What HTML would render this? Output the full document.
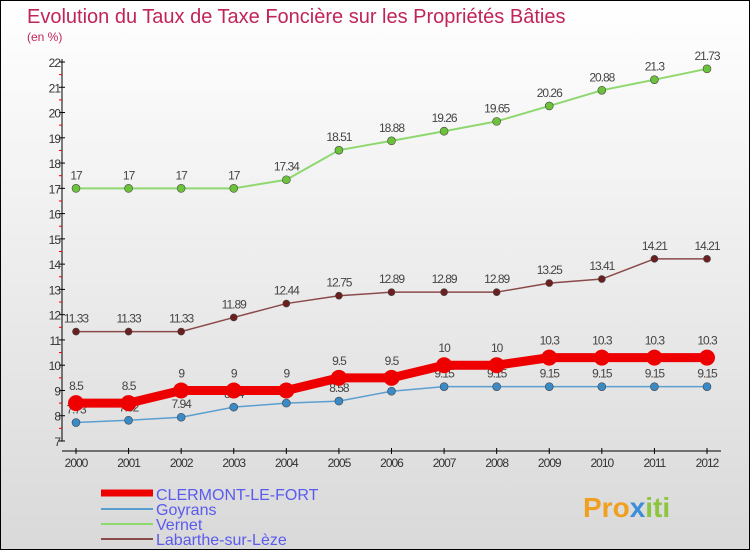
<!DOCTYPE html>
<html><head><meta charset="utf-8"><style>
body{margin:0}
#c{width:750px;height:550px;position:relative;box-sizing:border-box;border:1px solid #000;background:linear-gradient(#fff,#d9d9d9);font-family:"Liberation Sans",sans-serif;overflow:hidden}
svg text{font-family:"Liberation Sans",sans-serif}
</style></head><body>
<div id="c">
<svg id="s" width="750" height="550">
<text x="26" y="22" font-size="20" fill="#c0245a">Evolution du Taux de Taxe Foncière sur les Propriétés Bâties</text>
<text x="26" y="40" font-size="12" fill="#c0245a">(en %)</text>
<g id="axes"></g><g id="series"></g>
<g>
<line x1="100" y1="492" x2="152" y2="492" stroke="#e00" stroke-width="7"/>
<text x="155" y="499" font-size="16" fill="#5a5aee">CLERMONT-LE-FORT</text>
<line x1="100" y1="508" x2="152" y2="508" stroke="#5b9fd0" stroke-width="2"/>
<text x="155" y="514" font-size="16" fill="#5a5aee">Goyrans</text>
<line x1="100" y1="523" x2="152" y2="523" stroke="#8fd870" stroke-width="2"/>
<text x="155" y="529" font-size="16" fill="#5a5aee">Vernet</text>
<line x1="100" y1="538" x2="152" y2="538" stroke="#8b4a4a" stroke-width="2"/>
<text x="155" y="544" font-size="16" fill="#5a5aee">Labarthe-sur-Lèze</text>
</g>
<text x="582" y="516" font-size="28" font-weight="bold" fill="#f0a020">Pro<tspan fill="#3a8fd8">x</tspan><tspan fill="#8cc63f">iti</tspan></text>
</svg></div>
<script>
const years=[2000,2001,2002,2003,2004,2005,2006,2007,2008,2009,2010,2011,2012];
const clermont=[8.5,8.5,9,9,9,9.5,9.5,10,10,10.3,10.3,10.3,10.3];
const goyrans=[7.73,7.82,7.94,8.34,8.5,8.58,8.97,9.15,9.15,9.15,9.15,9.15,9.15];
const vernet=[17,17,17,17,17.34,18.51,18.88,19.26,19.65,20.26,20.88,21.3,21.73];
const labarthe=[11.33,11.33,11.33,11.89,12.44,12.75,12.89,12.89,12.89,13.25,13.41,14.21,14.21];
const yTicks=[7,8,9,10,11,12,13,14,15,16,17,18,19,20,21,22];
const NS='http://www.w3.org/2000/svg';
const X=i=>75+i*(706-75)/(years.length-1);
const Y=v=>61+(22-v)*(440-61)/15;
function mk(t,a,p){const e=document.createElementNS(NS,t);for(const k in a)e.setAttribute(k,a[k]);p.appendChild(e);return e;}
const ax=document.getElementById('axes');
const ya=mk('line',{x1:61,y1:58,x2:61,y2:440,stroke:'#000'},ax);


yTicks.forEach(v=>{
 mk('line',{x1:58,x2:64,y1:Y(v),y2:Y(v),stroke:'#000'},ax);
 if(v<22)mk('line',{x1:58,x2:61,y1:Y(v+0.5),y2:Y(v+0.5),stroke:'#e00'},ax);
 const t=mk('text',{x:59,y:Y(v)+5,'font-size':12,'text-anchor':'end',fill:'#333','letter-spacing':'-1'},ax);t.textContent=v;
 
 
});
const xa=mk('line',{x1:61,y1:450,x2:720,y2:450,stroke:'#000'},ax);


years.forEach((y,i)=>{
 mk('line',{x1:X(i),x2:X(i),y1:447,y2:453,stroke:'#000'},ax);
 const t=mk('text',{x:X(i),y:466,'font-size':12,'text-anchor':'middle',fill:'#333','letter-spacing':'-1'},ax);t.textContent=y;
 
 
});
const sg=document.getElementById('series');
function series(data,name,color,lw,r,stroke,dy){
 const g=mk('g',{},sg);
 
 
 const l=mk('polyline',{points:data.map((v,i)=>X(i)+','+Y(v)).join(' '),fill:'none',stroke:color,'stroke-width':lw},g);
 
 
 data.forEach((v,i)=>{
  const c=mk('circle',{cx:X(i),cy:Y(v),r:r,fill:stroke,stroke:color==='#e00'?'none':'#444','stroke-width':0.6},g);
  
  
  const t=mk('text',{x:X(i),y:Y(v)-dy,'font-size':12,'text-anchor':'middle',fill:'#444','letter-spacing':'-1'},g);t.textContent=v;
  
  
 });
}
series(vernet,'vernet','#8fd870',2,4,'#6cc23a',9);
series(labarthe,'labarthe','#8b4a4a',1.5,3.5,'#6b1f1f',9);
series(goyrans,'goyrans','#5b9fd0',1.5,4,'#3a8ac8',9);
series(clermont,'clermont','#e00',9,8,'#e00',13);
</script>
</body></html>
